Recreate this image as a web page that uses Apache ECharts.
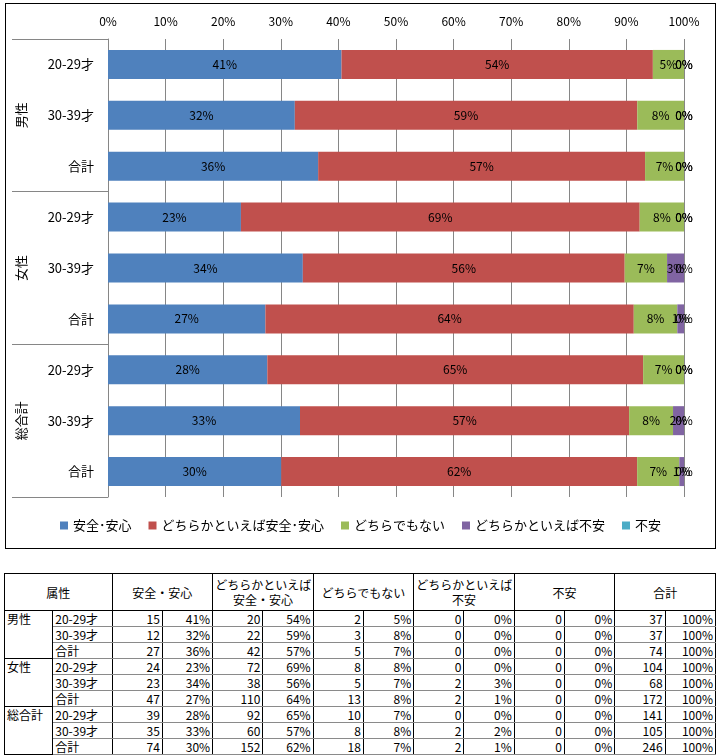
<!DOCTYPE html>
<html lang="ja">
<head>
    <meta charset="UTF-8">
    <script src="https://cdn.jsdelivr.net/npm/echarts@6/dist/echarts.min.js"></script>
    <title>Chart</title>
    <style>
        body { margin: 0; background: #fff; font-family: "Noto Sans CJK JP", sans-serif; }
        #chart-box { position: absolute; left: 5px; top: 3px; width: 709px; height: 544px; border: 1px solid #000; }
        #chart { width: 709px; height: 544px; }
        #tbl { position: absolute; left: 4px; top: 573px; border-collapse: collapse; table-layout: fixed; width: 712px; font-size: 12px; }
        #tbl td, #tbl th { padding: 0 2px; height: 15px; line-height: 15px; border-right: 1px solid #000; border-bottom: 1px solid #8a8a8a; white-space: nowrap; overflow: hidden; }
        #tbl th { font-weight: normal; height: 36px; line-height: 15px; border: 1px solid #000; text-align: center; }
        #tbl td.num { text-align: right; }
        #tbl td.grp { vertical-align: top; text-align: left; border-left: 1px solid #000; border-bottom: 1px solid #000; }
    </style>
</head>
<body>
    <div id="chart-box"><div id="chart"></div></div>
    <table id="tbl"></table>
</body>
<script type="text/javascript">
    // 集計データ
    var groups = ['男性', '女性', '総合計'];
    var ages = ['20-29才', '30-39才', '合計'];
    var seriesNames = ['安全･安心', 'どちらかといえば安全･安心', 'どちらでもない', 'どちらかといえば不安', '不安'];
    var headNames = ['安全・安心', 'どちらかといえば<br>安全・安心', 'どちらでもない', 'どちらかといえば<br>不安', '不安', '合計'];
    var colors = ['#4F81BD', '#C0504D', '#9BBB59', '#8064A2', '#4BACC6'];

    // 人数 (行: 男性20-29, 男性30-39, 男性合計, 女性..., 総合計...)
    var anshin     = [15, 12, 27, 24, 23, 47, 39, 35, 74];
    var dochiraAn  = [20, 22, 42, 72, 38, 110, 92, 60, 152];
    var dochiraMo  = [2, 3, 5, 8, 5, 13, 10, 8, 18];
    var dochiraFu  = [0, 0, 0, 0, 2, 2, 0, 2, 2];
    var fuan       = [0, 0, 0, 0, 0, 0, 0, 0, 0];
    var totals     = [37, 37, 74, 104, 68, 172, 141, 105, 246];

    var xTicks = [0, 0.1, 0.2, 0.3, 0.4, 0.5, 0.6, 0.7, 0.8, 0.9, 1];

    var counts = [anshin, dochiraAn, dochiraMo, dochiraFu, fuan];
    var rowLabels = [];
    groups.forEach(function (g) { ages.forEach(function (a) { rowLabels.push(a); }); });

    function pct(v) { return Math.round(v * 100) + '%'; }

    var chart = echarts.init(document.getElementById('chart'));
    var font = '"Noto Sans CJK JP", sans-serif';

    chart.setOption({
        color: colors,
        textStyle: { fontFamily: font },
        animation: false,
        grid: { left: 102, right: 31, top: 35, height: 458 },
        legend: {
            bottom: 11,
            left: 'center',
            icon: 'rect',
            itemWidth: 8,
            itemHeight: 8,
            itemGap: 17,
            textStyle: { fontSize: 13, color: '#000', fontFamily: font },
            data: seriesNames
        },
        xAxis: {
            type: 'value',
            position: 'top',
            min: xTicks[0],
            max: xTicks[xTicks.length - 1],
            interval: 0.1,
            axisLine: { show: false },
            axisTick: { show: false },
            axisLabel: { formatter: pct, color: '#000', fontSize: 12, margin: 12 },
            splitLine: { lineStyle: { color: '#868686', width: 1 } }
        },
        yAxis: [{
            type: 'category',
            inverse: true,
            data: rowLabels,
            axisLine: { show: false },
            axisTick: { show: false },
            axisLabel: { color: '#000', fontSize: 13, margin: 14 }
        }, {
            type: 'category',
            inverse: true,
            position: 'left',
            data: groups,
            axisLine: { show: true, lineStyle: { color: '#868686' } },
            axisTick: { show: true, length: 96, lineStyle: { color: '#868686' } },
            axisLabel: { color: '#000', fontSize: 13, rotate: 90, margin: 80 }
        }],
        series: counts.map(function (arr, i) {
            return {
                name: seriesNames[i],
                type: 'bar',
                stack: 'total',
                barWidth: '57%',
                clip: false,
                data: arr.map(function (v, j) { return v / totals[j]; }),
                label: {
                    show: true,
                    position: 'inside',
                    color: '#000',
                    fontSize: 12,
                    formatter: function (p) { return pct(p.value); }
                }
            };
        })
    });

    // 表
    var html = '<colgroup><col style="width:48px"><col style="width:59px">';
    for (var c = 0; c < 12; c++) html += '<col style="width:50px">';
    html += '</colgroup><tr><th colspan="2">属性</th>';
    headNames.forEach(function (h) { html += '<th colspan="2">' + h + '</th>'; });
    html += '</tr>';
    for (var r = 0; r < totals.length; r++) {
        html += '<tr>';
        if (r % 3 === 0) html += '<td class="grp" rowspan="3">' + groups[r / 3] + '</td>';
        html += '<td>' + rowLabels[r] + '</td>';
        counts.forEach(function (arr) {
            html += '<td class="num">' + arr[r] + '</td><td class="num">' + pct(arr[r] / totals[r]) + '</td>';
        });
        html += '<td class="num">' + totals[r] + '</td><td class="num">100%</td>';
        html += '</tr>';
    }
    document.getElementById('tbl').innerHTML = html;
</script>
</html>
